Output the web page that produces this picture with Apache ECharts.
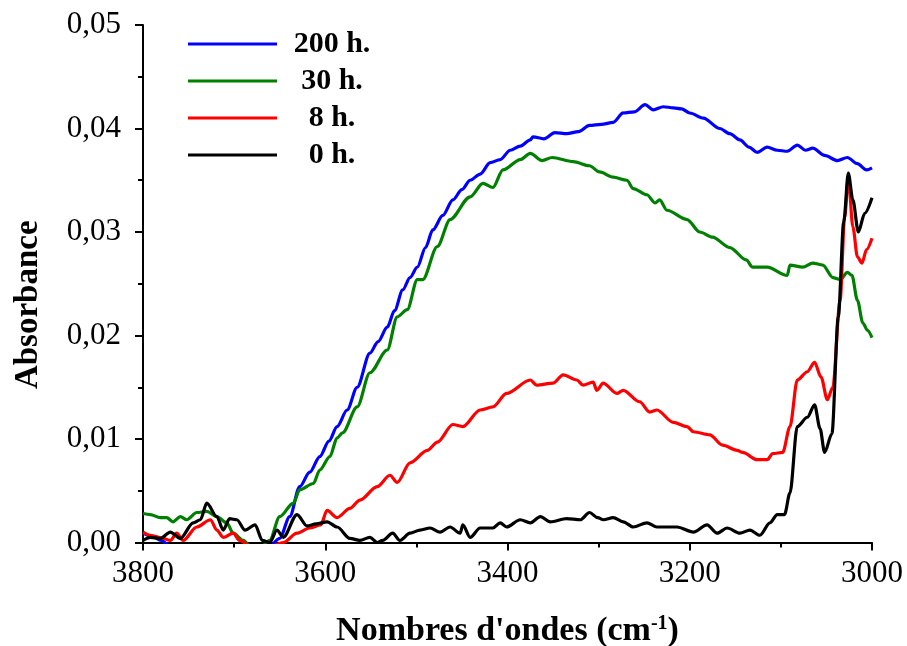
<!DOCTYPE html>
<html>
<head>
<meta charset="utf-8">
<script src="https://cdn.jsdelivr.net/npm/echarts@6/dist/echarts.min.js"></script>
<style>
html,body{margin:0;padding:0;background:#fff;}
#chart{width:907px;height:646px;}
</style>
</head>
<body>
<div id="chart"></div>
<script>
// ---- data ----
var legendNames = ['200 h.', '30 h.', '8 h.', '0 h.'];
var xTicks = [3800, 3600, 3400, 3200, 3000];
var yTicks = [0, 0.01, 0.02, 0.03, 0.04, 0.05];

var wn200 = [3800,3790,3780,3770,3760,3740,3720,3700,3680,3665,3650,3639,3628,3617,3606,3596,3587,3576,3565,3551,3542,3532,3524,3515,3507,3499,3490,3482,3471,3460,3450,3441,3430,3419,3408,3397,3386,3375,3372,3360,3348,3335,3322,3310,3297,3284,3273,3261,3249,3240,3229,3218,3209,3200,3185,3167,3156,3145,3135,3126,3115,3104,3093,3082,3073,3065,3052,3038,3027,3016,3006,3000];
var abs200 = [0.0009,0.0006,0.0002,-0.0004,-0.0006,-0.0008,-0.0010,-0.0012,-0.0012,-0.0008,0.0004,0.0025,0.0054,0.0068,0.0083,0.0098,0.0112,0.0128,0.0150,0.0183,0.0194,0.0208,0.0224,0.0244,0.0256,0.0266,0.0285,0.0302,0.0316,0.0331,0.0341,0.0350,0.0356,0.0367,0.0370,0.0379,0.0383,0.0389,0.0392,0.0390,0.0396,0.0395,0.0397,0.0403,0.0404,0.0406,0.0415,0.0416,0.0423,0.0418,0.0421,0.0420,0.0419,0.0415,0.0410,0.0400,0.0395,0.0389,0.0382,0.0377,0.0382,0.0379,0.0378,0.0384,0.0379,0.0381,0.0374,0.0369,0.0372,0.0366,0.0360,0.0362];

var wn30 = [3800,3792,3781,3774,3767,3759,3752,3741,3730,3719,3708,3701,3690,3680,3670,3661,3650,3635,3628,3613,3606,3595,3587,3581,3565,3551,3532,3521,3510,3499,3493,3477,3463,3441,3427,3416,3405,3386,3375,3362,3351,3328,3310,3299,3284,3269,3262,3247,3238,3233,3225,3203,3189,3175,3156,3138,3131,3115,3093,3090,3076,3065,3054,3043,3035,3027,3022,3016,3010,3005,3000];
var abs30 = [0.0028,0.0027,0.0024,0.0024,0.0020,0.0025,0.0022,0.0029,0.0030,0.0025,0.0019,0.0009,0.0002,-0.0006,-0.0004,0.0002,0.0025,0.0038,0.0051,0.0057,0.0070,0.0083,0.0101,0.0106,0.0131,0.0164,0.0186,0.0218,0.0225,0.0254,0.0254,0.0286,0.0312,0.0334,0.0347,0.0343,0.0360,0.0370,0.0376,0.0369,0.0372,0.0368,0.0364,0.0358,0.0353,0.0350,0.0342,0.0336,0.0328,0.0331,0.0321,0.0312,0.0300,0.0295,0.0285,0.0273,0.0266,0.0266,0.0258,0.0268,0.0266,0.0270,0.0268,0.0256,0.0254,0.0261,0.0258,0.0234,0.0212,0.0205,0.0198];

var wn8 = [3800,3792,3778,3770,3763,3756,3741,3726,3719,3712,3701,3694,3680,3665,3646,3631,3617,3605,3598,3587,3573,3562,3543,3529,3521,3507,3488,3477,3460,3449,3430,3416,3401,3375,3368,3350,3339,3324,3317,3306,3302,3295,3280,3273,3255,3244,3236,3218,3203,3196,3178,3164,3148,3142,3126,3115,3109,3098,3090,3082,3071,3063,3056,3049,3043,3035,3030,3026,3021,3016,3011,3006,3000];
var abs8 = [0.0010,0.0007,0.0004,0.0002,0.0009,0.0002,0.0015,0.0022,0.0012,0.0005,0.0009,0.0002,-0.0005,-0.0006,0.0000,0.0009,0.0014,0.0017,0.0031,0.0024,0.0033,0.0041,0.0054,0.0065,0.0058,0.0077,0.0089,0.0097,0.0114,0.0112,0.0128,0.0131,0.0144,0.0157,0.0152,0.0154,0.0162,0.0157,0.0152,0.0155,0.0147,0.0154,0.0144,0.0147,0.0136,0.0126,0.0128,0.0116,0.0112,0.0107,0.0104,0.0094,0.0089,0.0087,0.0080,0.0080,0.0086,0.0087,0.0112,0.0157,0.0165,0.0174,0.0160,0.0138,0.0150,0.0234,0.0314,0.0353,0.0305,0.0276,0.0270,0.0283,0.0294];

var wn0 = [3800,3792,3781,3770,3759,3745,3737,3730,3719,3712,3705,3697,3688,3677,3669,3661,3653,3646,3631,3620,3610,3598,3587,3573,3562,3551,3543,3537,3526,3518,3507,3496,3485,3474,3463,3452,3449,3441,3430,3416,3408,3401,3386,3375,3364,3353,3335,3320,3310,3301,3295,3284,3273,3262,3247,3236,3214,3196,3181,3170,3159,3145,3134,3123,3112,3104,3096,3090,3082,3071,3063,3057,3052,3044,3037,3031,3026,3021,3015,3008,3000];
var abs0 = [0.0002,0.0005,0.0004,0.0010,0.0004,0.0019,0.0022,0.0038,0.0025,0.0012,0.0023,0.0022,0.0012,0.0017,0.0002,0.0000,0.0012,0.0005,0.0027,0.0016,0.0018,0.0020,0.0015,0.0004,0.0002,0.0005,0.0000,0.0002,0.0009,0.0002,0.0009,0.0012,0.0014,0.0010,0.0015,0.0009,0.0017,0.0005,0.0014,0.0014,0.0019,0.0015,0.0022,0.0019,0.0025,0.0020,0.0023,0.0022,0.0029,0.0024,0.0022,0.0024,0.0020,0.0015,0.0019,0.0015,0.0015,0.0010,0.0017,0.0009,0.0014,0.0009,0.0012,0.0007,0.0019,0.0027,0.0027,0.0048,0.0112,0.0121,0.0133,0.0110,0.0087,0.0105,0.0218,0.0310,0.0357,0.0331,0.0300,0.0318,0.0333];

var colors = ['#0000FF', '#008000', '#FF0000', '#000000'];

function pairs(xs, ys) { return xs.map(function (x, i) { return [x, ys[i]]; }); }

var FONT = '"Liberation Serif", "Times New Roman", serif';
var chart = echarts.init(document.getElementById('chart'), null, { renderer: 'canvas' });

function mk(name, xs, ys, color) {
  return {
    name: name, type: 'line', data: pairs(xs, ys),
    showSymbol: false, symbol: 'none', smooth: 0.3, smoothMonotone: 'x',
    lineStyle: { color: color, width: 3.2 }, itemStyle: { color: color },
    clip: true, animation: false
  };
}

chart.setOption({
  animation: false,
  backgroundColor: '#fff',
  grid: { left: 143, right: 35, top: 25, bottom: 103.5, containLabel: false, outerBoundsMode: 'none' },
  legend: {
    orient: 'vertical', left: 183, top: 22,
    itemWidth: 89, itemHeight: 3, itemGap: 3,
    icon: 'rect',
    data: legendNames,
    formatter: function (n) { return '{t|' + n + '}'; },
    textStyle: {
      fontFamily: FONT, fontWeight: 'bold', fontSize: 30, lineHeight: 34,
      rich: { t: { fontFamily: FONT, fontWeight: 'bold', fontSize: 30, color: '#000', width: 100, align: 'center', lineHeight: 34 } }
    }
  },
  xAxis: {
    type: 'value', inverse: true, min: 3000, max: 3800, interval: 200,
    name: "Nombres d'ondes (cm{sup|-1})",
    nameLocation: 'middle', nameGap: 71,
    nameTextStyle: {
      fontFamily: FONT, fontWeight: 'bold', fontSize: 34, color: '#000',
      rich: { sup: { fontFamily: FONT, fontWeight: 'bold', fontSize: 20, verticalAlign: 'top', padding: [0, 0, 16, 0], color: '#000' } }
    },
    axisLine: { show: true, onZero: false, lineStyle: { color: '#000', width: 2 } },
    axisTick: { show: true, inside: false, length: 8, lineStyle: { color: '#000', width: 2 } },
    minorTick: { show: true, splitNumber: 2, length: 5, lineStyle: { color: '#000', width: 2 } },
    splitLine: { show: false },
    axisLabel: { fontFamily: FONT, fontSize: 31, color: '#000', margin: 16,
      formatter: function (v) { return xTicks.indexOf(v) >= 0 ? String(v) : ''; } }
  },
  yAxis: {
    type: 'value', min: 0, max: 0.05, interval: 0.01,
    name: 'Absorbance', nameLocation: 'middle', nameGap: 98, nameRotate: 90,
    nameTextStyle: { fontFamily: FONT, fontWeight: 'bold', fontSize: 33, color: '#000', padding: [0, 42, 0, 0] },
    axisLine: { show: true, lineStyle: { color: '#000', width: 2 } },
    axisTick: { show: true, inside: false, length: 8, lineStyle: { color: '#000', width: 2 } },
    minorTick: { show: true, splitNumber: 2, length: 5, lineStyle: { color: '#000', width: 2 } },
    splitLine: { show: false },
    axisLabel: { fontFamily: FONT, fontSize: 31, color: '#000', margin: 22,
      formatter: function (v) {
        for (var i = 0; i < yTicks.length; i++) { if (Math.abs(v - yTicks[i]) < 1e-9) return yTicks[i].toFixed(2).replace('.', ','); }
        return '';
      } }
  },
  series: [
    mk(legendNames[0], wn200, abs200, colors[0]),
    mk(legendNames[1], wn30, abs30, colors[1]),
    mk(legendNames[2], wn8, abs8, colors[2]),
    mk(legendNames[3], wn0, abs0, colors[3])
  ]
});
</script>
</body>
</html>
